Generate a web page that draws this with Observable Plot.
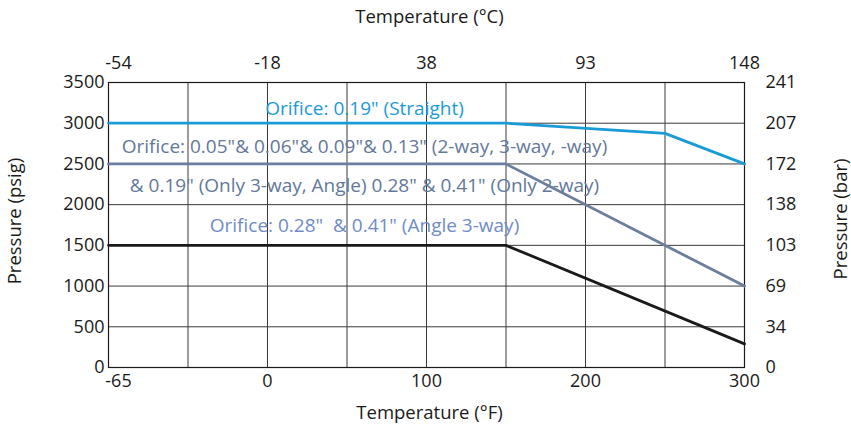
<!DOCTYPE html>
<html><head><meta charset="utf-8">
<script src="https://cdn.jsdelivr.net/npm/d3@7"></script>
<script src="https://cdn.jsdelivr.net/npm/@observablehq/plot@0.6"></script>
<style>
body{margin:0;background:#fff;}
svg{font-family:"Open Sans",sans-serif;}
</style>
</head><body><div id="chart"></div>
<script>
// x grid positions (°F); the chart spaces -65..0 over two cells, then 50°F per cell
const xGrid = [-65, -32.5, 0, 50, 100, 150, 200, 250, 300];
const xTicksF = [-65, 0, 100, 200, 300];
const fahrenheitLabels = ["-65", "0", "100", "200", "300"];
const celsiusLabels = ["-54", "-18", "38", "93", "148"];
const yTicks = [0, 500, 1000, 1500, 2000, 2500, 3000, 3500];
const psigLabels = ["0", "500", "1000", "1500", "2000", "2500", "3000", "3500"];
const barLabels = ["0", "34", "69", "103", "138", "172", "207", "241"];

const straightTemp = [-65, 150, 250, 300];
const straightPsig = [3000, 3000, 2875, 2500];
const generalTemp = [-65, 150, 300];
const generalPsig = [2500, 2500, 1000];
const angleTemp = [-65, 150, 300];
const anglePsig = [1500, 1500, 290];

const toRows = (xs, ys) => xs.map((x, i) => ({x, y: ys[i]}));
const fmt = (ticks, labels) => (d) => labels[ticks.indexOf(d)];

const gridColor = "#3a3a3a";
const fs = 19;
const tfs = 18;
const titleFs = 18.5;

const chart = Plot.plot({
  width: 851,
  height: 424,
  marginLeft: 108,
  marginRight: 107,
  marginTop: 82,
  marginBottom: 57,
  style: {fontFamily: "'Open Sans', sans-serif", background: "#fff", color: "#1a1a1a"},
  x: {type: "linear", domain: xGrid},
  y: {domain: [0, 3500]},
  marks: [
    Plot.ruleX(xGrid, {stroke: gridColor, strokeWidth: 1}),
    Plot.ruleY(yTicks, {stroke: gridColor, strokeWidth: 1}),
    Plot.frame({stroke: "#1a1a1a", strokeWidth: 1.2}),
    // annotations
    Plot.text(["Orifice: 0.19\" (Straight)"], {x: 61, y: 3180, fill: "#1b9ad8", fontSize: fs, textAnchor: "middle"}),
    Plot.text(["Orifice: 0.05\"& 0.06\"& 0.09\"& 0.13\" (2-way, 3-way, -way)"], {x: 61, y: 2705, fill: "#63789a", fontSize: fs, textAnchor: "middle"}),
    Plot.text(["& 0.19\" (Only 3-way, Angle) 0.28\" & 0.41\" (Only 2-way)"], {x: 61, y: 2225, fill: "#63789a", fontSize: fs, textAnchor: "middle"}),
    Plot.text(["Orifice: 0.28\"  & 0.41\" (Angle 3-way)"], {x: 61, y: 1735, fill: "#6f8bc7", fontSize: fs, textAnchor: "middle"}),
    // lines
    Plot.line(toRows(angleTemp, anglePsig), {x: "x", y: "y", stroke: "#1a1a1a", strokeWidth: 2.8}),
    Plot.line(toRows(generalTemp, generalPsig), {x: "x", y: "y", stroke: "#6a7e9e", strokeWidth: 2.8}),
    Plot.line(toRows(straightTemp, straightPsig), {x: "x", y: "y", stroke: "#1b9ad8", strokeWidth: 2.8}),
    // axes
    Plot.axisX(xTicksF.slice(1), {anchor: "bottom", tickSize: 0, tickPadding: 7, fontSize: tfs, label: null, tickFormat: fmt(xTicksF, fahrenheitLabels)}),
    Plot.axisX(xTicksF.slice(0, 1), {anchor: "bottom", tickSize: 0, tickPadding: 7, fontSize: tfs, label: null, dx: 10, tickFormat: fmt(xTicksF, fahrenheitLabels)}),
    Plot.axisX(xTicksF.slice(1), {anchor: "top", tickSize: 0, tickPadding: 14, fontSize: tfs, label: null, tickFormat: fmt(xTicksF, celsiusLabels)}),
    Plot.axisX(xTicksF.slice(0, 1), {anchor: "top", tickSize: 0, tickPadding: 14, fontSize: tfs, label: null, dx: 10, tickFormat: fmt(xTicksF, celsiusLabels)}),
    Plot.axisY(yTicks, {anchor: "left", tickSize: 0, tickPadding: 4, fontSize: tfs, label: null, tickFormat: fmt(yTicks, psigLabels)}),
    Plot.axisY(yTicks, {anchor: "right", tickSize: 0, tickPadding: 21, fontSize: tfs, label: null, tickFormat: fmt(yTicks, barLabels)}),
    // axis titles
    Plot.text(["Temperature (°C)"], {frameAnchor: "top", dy: -65, dx: 3, textAnchor: "middle", lineAnchor: "middle", fontSize: titleFs, fill: "#1a1a1a"}),
    Plot.text(["Temperature (°F)"], {frameAnchor: "bottom", dy: 46, dx: 3, textAnchor: "middle", lineAnchor: "middle", fontSize: titleFs, fill: "#1a1a1a"}),
    Plot.text(["Pressure (psig)"], {frameAnchor: "left", dx: -93, dy: -4, rotate: -90, textAnchor: "middle", lineAnchor: "middle", fontSize: titleFs, fill: "#1a1a1a"}),
    Plot.text(["Pressure (bar)"], {frameAnchor: "right", dx: 96.5, dy: -6, rotate: -90, textAnchor: "middle", lineAnchor: "middle", fontSize: titleFs, fill: "#1a1a1a"})
  ]
});
document.getElementById("chart").appendChild(chart);
</script>
</body></html>
